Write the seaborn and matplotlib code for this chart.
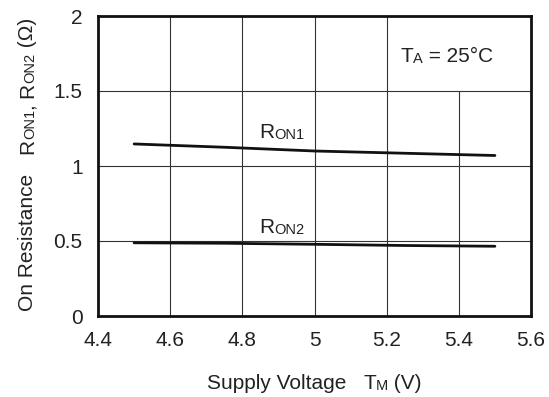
import matplotlib
matplotlib.use("Agg")
import matplotlib.pyplot as plt
import pandas as pd
import seaborn as sns

# Supply voltage sweep and on-resistance of the two switches
voltage = [4.5, 4.75, 5.0, 5.25, 5.5]
ron1 = [1.147, 1.125, 1.100, 1.085, 1.070]
ron2 = [0.488, 0.485, 0.478, 0.470, 0.465]

x_ticks = [4.4, 4.6, 4.8, 5.0, 5.2, 5.4, 5.6]
x_tick_labels = ["4.4", "4.6", "4.8", "5", "5.2", "5.4", "5.6"]
y_ticks = [0, 0.5, 1.0, 1.5, 2.0]
y_tick_labels = ["0", "0.5", "1", "1.5", "2"]

df = pd.DataFrame({
    "voltage": voltage * 2,
    "resistance": ron1 + ron2,
    "series": ["RON1"] * len(voltage) + ["RON2"] * len(voltage),
})

sns.set_theme(style="white")
plt.rcParams["font.family"] = ["Liberation Sans", "DejaVu Sans"]

FS = 15
SUB = 10.5
INK = "#222222"
GRID = "#333333"

fig = plt.figure(figsize=(5.49, 3.97), dpi=100)
ax = fig.add_axes([98 / 549, 81 / 397, 433 / 549, 300 / 397])

# grid: the upper-right cell is left open for the temperature note
for xv in [4.6, 4.8, 5.0, 5.2]:
    ax.axvline(xv, color=GRID, lw=0.8, zorder=1)
ax.vlines(5.4, 0, 1.5, color=GRID, lw=0.8, zorder=1)
for yv in [0.5, 1.0, 1.5]:
    ax.axhline(yv, color=GRID, lw=0.8, zorder=1)

sns.lineplot(data=df, x="voltage", y="resistance", units="series",
             estimator=None, color="#111111", lw=2.0, ax=ax, zorder=3,
             legend=False)

ax.set_xlim(4.4, 5.6)
ax.set_ylim(0, 2)
ax.set_xticks(x_ticks, x_tick_labels)
ax.set_yticks(y_ticks, y_tick_labels)
ax.tick_params(axis="both", length=0, pad=11, labelsize=FS, colors=INK)
ax.set_xlabel("")
ax.set_ylabel("")
for s in ax.spines.values():
    s.set_visible(True)
    s.set_color("#111111")
    s.set_linewidth(2.0)


def draw_rich(parts, x, y, transform, rotation=0):
    """Draw text pieces (text, size, gap in points) one after another."""
    txt, size, _ = parts[0]
    if rotation == 90:
        last = ax.annotate(txt, xy=(x, y), xycoords=transform, fontsize=size,
                           rotation=90, ha="right", va="bottom", color=INK,
                           annotation_clip=False)
    else:
        last = ax.annotate(txt, xy=(x, y), xycoords=transform, fontsize=size,
                           ha="left", va="bottom", color=INK,
                           annotation_clip=False)
    for txt, size, gap in parts[1:]:
        if rotation == 90:
            last = ax.annotate(txt, xy=(1, 1), xycoords=last,
                               xytext=(0, gap), textcoords="offset points",
                               fontsize=size, rotation=90, ha="right",
                               va="bottom", color=INK, annotation_clip=False)
        else:
            last = ax.annotate(txt, xy=(1, 0), xycoords=last,
                               xytext=(gap, 0), textcoords="offset points",
                               fontsize=size, ha="left", va="bottom",
                               color=INK, annotation_clip=False)
    return last


# series labels
draw_rich([("R", FS, 0), ("ON1", SUB, 0)], 4.846, 1.158, ax.transData)
draw_rich([("R", FS, 0), ("ON2", SUB, 0)], 4.846, 0.526, ax.transData)

# ambient temperature note
draw_rich([("T", FS, 0), ("A", SUB, 0), (" = 25°C", FS, 0)], 5.237, 1.664,
          ax.transData)

# axis titles
draw_rich([("Supply Voltage", FS, 0), ("T", FS, 12), ("M", SUB, 0),
           (" (V)", FS, 0)], 207 / 549, 4 / 397, fig.transFigure)
draw_rich([("On Resistance", FS, 0), ("R", FS, 14), ("ON1", SUB, 0),
           (",", FS, 0), ("R", FS, 4), ("ON2", SUB, 0), (" (Ω)", FS, 0)],
          37 / 549, 86 / 397, fig.transFigure, rotation=90)

fig.savefig("out.png", dpi=100, facecolor="white")
